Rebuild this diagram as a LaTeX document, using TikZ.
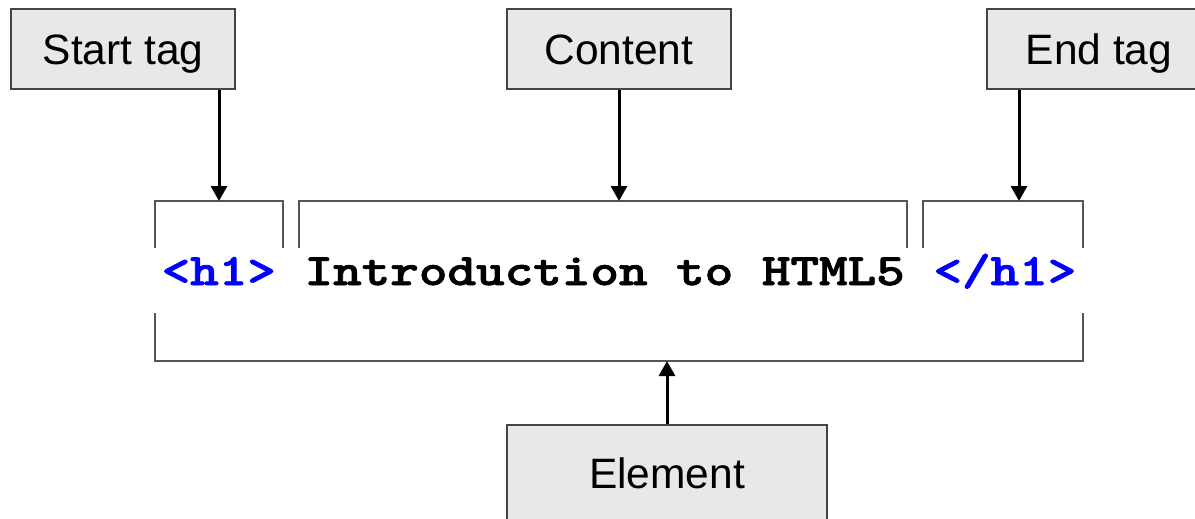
\documentclass[tikz,border=0pt]{standalone}
\usepackage{fontspec}
\setmainfont{Liberation Sans}
\newfontfamily\codefont{lmmonolt10-bold}[Extension=.otf, FakeBold=1.6]
\usetikzlibrary{arrows.meta}
\definecolor{boxfill}{HTML}{E8E8E8}
\definecolor{boxline}{HTML}{444444}
\definecolor{brk}{HTML}{555555}
\definecolor{tagblue}{HTML}{0000FF}
\tikzset{
  label box/.style={draw=boxline, fill=boxfill, line width=1.6pt, minimum width=224pt, minimum height=80pt, inner sep=0pt,
    text height=30.4pt, text depth=0pt, font=\fontsize{42.5}{42.5}\selectfont, text=black},
  pointer/.style={line width=3pt, -{Triangle[width=16pt,length=15pt]}},
  bracket/.style={draw=brk, line width=2.2pt},
}
\begin{document}
\begin{tikzpicture}[x=1pt,y=-1pt]
\useasboundingbox (0,0) rectangle (1195,519);
\clip (0,0) rectangle (1195,519);
\node[label box] (start) at (123,49) {Start tag};
\node[label box] (content) at (619,49) {Content};
\node[label box] (end) at (1099,49) {End tag};
\node[label box, minimum width=320pt, minimum height=96pt] (element) at (667,473) {Element};
\node[anchor=base, inner sep=0pt, font=\codefont\fontsize{45}{45}\selectfont] (code) at (619,285)
  {\scalebox{1.21}[1]{\textcolor{tagblue}{<h1>} Introduction to HTML5 \textcolor{tagblue}{</h1>}}};
% brackets
\draw[bracket] (155,248) -- (155,201) -- (283,201) -- (283,248);
\draw[bracket] (299,248) -- (299,201) -- (907,201) -- (907,248);
\draw[bracket] (923,248) -- (923,201) -- (1083,201) -- (1083,248);
\draw[bracket] (155,313) -- (155,361) -- (1083,361) -- (1083,313);
\coordinate (sb) at (219,201);
\coordinate (cb) at (619,201);
\coordinate (eb) at (1019,201);
\coordinate (bb) at (667,361);
\draw[pointer] (start.south -| sb) -- (sb);
\draw[pointer] (content.south -| cb) -- (cb);
\draw[pointer] (end.south -| eb) -- (eb);
\draw[pointer] (element.north -| bb) -- (bb);
\end{tikzpicture}
\end{document}
